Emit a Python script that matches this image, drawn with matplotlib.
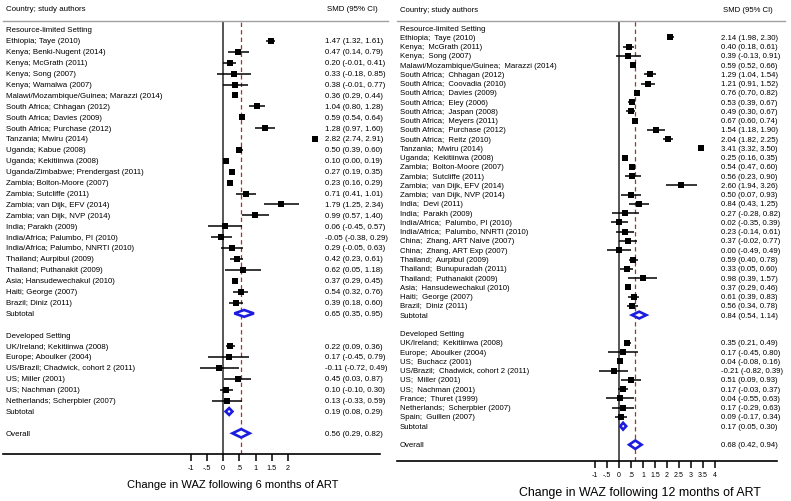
import numpy as np
import matplotlib.pyplot as plt

plt.rcParams['font.family'] = ['Liberation Sans', 'DejaVu Sans']

# ---- 6 months of ART ----
rl6_names = ["Ethiopia; Taye (2010)", "Kenya; Benki-Nugent (2014)", "Kenya; McGrath (2011)",
             "Kenya; Song (2007)", "Kenya; Wamalwa (2007)", "Malawi/Mozambique/Guinea; Marazzi (2014)",
             "South Africa; Chhagan (2012)", "South Africa; Davies (2009)", "South Africa; Purchase (2012)",
             "Tanzania; Mwiru (2014)", "Uganda; Kabue (2008)", "Uganda; Kekitiinwa (2008)",
             "Uganda/Zimbabwe; Prendergast (2011)", "Zambia; Bolton-Moore (2007)", "Zambia; Sutcliffe (2011)",
             "Zambia; van Dijk, EFV (2014)", "Zambia; van Dijk, NVP (2014)", "India; Parakh (2009)",
             "India/Africa; Palumbo, PI (2010)", "India/Africa; Palumbo, NNRTI (2010)",
             "Thailand; Aurpibul (2009)", "Thailand; Puthanakit (2009)", "Asia; Hansudewechakul (2010)",
             "Haiti; George (2007)", "Brazil; Diniz (2011)"]
rl6_est = [1.47, 0.47, 0.20, 0.33, 0.38, 0.36, 1.04, 0.59, 1.28, 2.82, 0.50, 0.10, 0.27, 0.23, 0.71,
           1.79, 0.99, 0.06, -0.05, 0.29, 0.42, 0.62, 0.37, 0.54, 0.39]
rl6_lo = [1.32, 0.14, -0.01, -0.18, -0.01, 0.29, 0.80, 0.54, 0.97, 2.74, 0.39, 0.00, 0.19, 0.16, 0.41,
          1.25, 0.57, -0.45, -0.38, -0.05, 0.23, 0.05, 0.29, 0.32, 0.18]
rl6_hi = [1.61, 0.79, 0.41, 0.85, 0.77, 0.44, 1.28, 0.64, 1.60, 2.91, 0.60, 0.19, 0.35, 0.29, 1.01,
          2.34, 1.40, 0.57, 0.29, 0.63, 0.61, 1.18, 0.45, 0.76, 0.60]
rl6_sub = [0.65, 0.35, 0.95]

dev6_names = ["UK/Ireland; Kekitiinwa (2008)", "Europe; Aboulker (2004)",
              "US/Brazil; Chadwick, cohort 2 (2011)", "US; Miller (2001)", "US; Nachman (2001)",
              "Netherlands; Scherpbier (2007)"]
dev6_est = [0.22, 0.17, -0.11, 0.45, 0.10, 0.13]
dev6_lo = [0.09, -0.45, -0.72, 0.03, -0.10, -0.33]
dev6_hi = [0.36, 0.79, 0.49, 0.87, 0.30, 0.59]
dev6_sub = [0.19, 0.08, 0.29]
overall6 = [0.56, 0.29, 0.82]

ticks6 = [-1, -0.5, 0, 0.5, 1, 1.5, 2]
ticklabels6 = ["-1", "-.5", "0", ".5", "1", "1.5", "2"]

# ---- 12 months of ART ----
rl12_names = ["Ethiopia;  Taye (2010)", "Kenya;  McGrath (2011)", "Kenya;  Song (2007)",
              "Malawi/Mozambique/Guinea;  Marazzi (2014)", "South Africa;  Chhagan (2012)",
              "South Africa;  Coovadia (2010)", "South Africa;  Davies (2009)", "South Africa;  Eley (2006)",
              "South Africa;  Jaspan (2008)", "South Africa;  Meyers (2011)", "South Africa;  Purchase (2012)",
              "South Africa;  Reitz (2010)", "Tanzania;  Mwiru (2014)", "Uganda;  Kekitiinwa (2008)",
              "Zambia;  Bolton-Moore (2007)", "Zambia;  Sutcliffe (2011)", "Zambia;  van Dijk, EFV (2014)",
              "Zambia;  van Dijk, NVP (2014)", "India;  Devi (2011)", "India;  Parakh (2009)",
              "India/Africa;  Palumbo, PI (2010)", "India/Africa;  Palumbo, NNRTI (2010)",
              "China;  Zhang, ART Naive (2007)", "China;  Zhang, ART Exp (2007)",
              "Thailand;  Aurpibul (2009)", "Thailand;  Bunupuradah (2011)", "Thailand;  Puthanakit (2009)",
              "Asia;  Hansudewechakul (2010)", "Haiti;  George (2007)", "Brazil;  Diniz (2011)"]
rl12_est = [2.14, 0.40, 0.39, 0.59, 1.29, 1.21, 0.76, 0.53, 0.49, 0.67, 1.54, 2.04, 3.41, 0.25, 0.54,
            0.56, 2.60, 0.50, 0.84, 0.27, 0.02, 0.23, 0.37, 0.00, 0.59, 0.33, 0.98, 0.37, 0.61, 0.56]
rl12_lo = [1.98, 0.18, -0.13, 0.52, 1.04, 0.91, 0.70, 0.39, 0.30, 0.60, 1.18, 1.82, 3.32, 0.16, 0.47,
           0.23, 1.94, 0.07, 0.43, -0.28, -0.35, -0.14, -0.02, -0.49, 0.40, 0.05, 0.39, 0.29, 0.39, 0.34]
rl12_hi = [2.30, 0.61, 0.91, 0.66, 1.54, 1.52, 0.82, 0.67, 0.67, 0.74, 1.90, 2.25, 3.50, 0.35, 0.60,
           0.90, 3.26, 0.93, 1.25, 0.82, 0.39, 0.61, 0.77, 0.49, 0.78, 0.60, 1.57, 0.46, 0.83, 0.78]
rl12_sub = [0.84, 0.54, 1.14]

dev12_names = ["UK/Ireland;  Kekitiinwa (2008)", "Europe;  Aboulker (2004)", "US;  Buchacz (2001)",
               "US/Brazil;  Chadwick, cohort 2 (2011)", "US;  Miller (2001)", "US;  Nachman (2001)",
               "France;  Thuret (1999)", "Netherlands;  Scherpbier (2007)", "Spain;  Guillen (2007)"]
dev12_est = [0.35, 0.17, 0.04, -0.21, 0.51, 0.17, 0.04, 0.17, 0.09]
dev12_lo = [0.21, -0.45, -0.08, -0.82, 0.09, -0.03, -0.55, -0.29, -0.17]
dev12_hi = [0.49, 0.80, 0.16, 0.39, 0.93, 0.37, 0.63, 0.63, 0.34]
dev12_sub = [0.17, 0.05, 0.30]
overall12 = [0.68, 0.42, 0.94]

ticks12 = [-1, -0.5, 0, 0.5, 1, 1.5, 2, 2.5, 3, 3.5, 4]
ticklabels12 = ["-1", "-.5", "0", ".5", "1", "1.5", "2", "2.5", "3", "3.5", "4"]

W, H = 791, 502
fig = plt.figure(figsize=(W / 100, H / 100), dpi=100)
DIAMOND = '#1c1ce0'


def fmt(e, l, h):
    return f"{e:.2f} ({l:.2f}, {h:.2f})"


def draw_panel(groups, overall, ticks, ticklabels, xlabel, g):
    # g holds the pixel layout of the panel
    x0, x1, top, bot = g['x0'], g['x1'], g['top'], g['bot']
    zero, scale, row0, dy = g['zero'], g['scale'], g['row0'], g['dy']
    ax = fig.add_axes([x0 / W, 1 - bot / H, (x1 - x0) / W, (bot - top) / H])
    ax.set_xlim((x0 - zero) / scale, (x1 - zero) / scale)
    ax.set_ylim((bot - row0) / dy, (top - row0) / dy)
    px = lambda p: (p - zero) / scale
    fs = g['fs']

    # marker sizes from (random-effects like) weights
    tau2 = 0.6
    allse = np.concatenate([(np.array(gr[4]) - np.array(gr[3])) / 3.92 for gr in groups])
    wmax = np.max(1 / (allse ** 2 + tau2))

    ax.text(px(g['tx']), (10 - row0) / dy, "Country; study authors", fontsize=fs, va='center', clip_on=False)
    ax.text(px(g['vx']) + 2 / scale, (10 - row0) / dy, "SMD (95% CI)", fontsize=fs, va='center', clip_on=False)
    ax.plot([px(x0), px(g['hx1'])], [(top - row0) / dy] * 2, color='#a0a0a0', lw=1, clip_on=False)

    ax.axvline(0, color='#555555', lw=1.4, zorder=1)
    ax.axvline(overall[0], color='#a83232', lw=0.9, ls=(0, (3.5, 2.5)), zorder=1)

    def diamond(vals, row, half):
        e, l, h = vals
        hh = half / dy
        ax.fill([l, e, h, e, l], [row, row - hh, row, row + hh, row],
                facecolor='white', edgecolor=DIAMOND, lw=1.9, joinstyle='miter', zorder=4)

    row = 0
    for title, names, est, lo, hi, sub in groups:
        ax.text(px(g['tx']), row, title, fontsize=fs, va='center')
        row += 1
        for n, e, l, h in zip(names, est, lo, hi):
            se = (h - l) / 3.92
            side = g['msize'] * np.sqrt((1 / (se ** 2 + tau2)) / wmax)
            ax.plot([l, h], [row, row], color='black', lw=1.1, solid_capstyle='butt', zorder=3)
            ax.plot(e, row, 's', color='black', ms=side / 1.389, mew=0, zorder=3)
            ax.text(px(g['tx']), row, n, fontsize=fs, va='center')
            ax.text(px(g['vx']), row, fmt(e, l, h), fontsize=fs, va='center')
            row += 1
        diamond(sub, row, 3.4)
        ax.text(px(g['tx']), row, "Subtotal", fontsize=fs, va='center')
        ax.text(px(g['vx']), row, fmt(*sub), fontsize=fs, va='center')
        row += 2
    diamond(overall, row, 4.2)
    ax.text(px(g['tx']), row, "Overall", fontsize=fs, va='center')
    ax.text(px(g['vx']), row, fmt(*overall), fontsize=fs, va='center')

    for s in ['top', 'left', 'right']:
        ax.spines[s].set_visible(False)
    ax.spines['bottom'].set_linewidth(1.2)
    ax.set_yticks([])
    ax.set_xticks(ticks, ticklabels)
    ax.tick_params(axis='x', length=4.8, width=1.1, pad=2.2, labelsize=g['tfs'])
    fig.text(g['xlx'] / W, 1 - g['xly'] / H, xlabel, ha='center', va='center', fontsize=g['xlfs'])
    return ax


geo6 = dict(x0=3, x1=380, top=22, bot=455, zero=223, scale=32.5, row0=31, dy=10.9,
            tx=6, vx=325, hx1=388, fs=5.7, tfs=5.2, msize=5.8, xlx=233, xly=485, xlfs=8)
geo12 = dict(x0=397, x1=777, top=22, bot=462, zero=619, scale=24.0, row0=29, dy=9.26,
             tx=400, vx=721, hx1=785, fs=5.6, tfs=5.0, msize=5.6, xlx=640, xly=493, xlfs=8.9)

draw_panel([("Resource-limited Setting", rl6_names, rl6_est, rl6_lo, rl6_hi, rl6_sub),
            ("Developed Setting", dev6_names, dev6_est, dev6_lo, dev6_hi, dev6_sub)],
           overall6, ticks6, ticklabels6, "Change in WAZ following 6 months of ART", geo6)
draw_panel([("Resource-limited Setting", rl12_names, rl12_est, rl12_lo, rl12_hi, rl12_sub),
            ("Developed Setting", dev12_names, dev12_est, dev12_lo, dev12_hi, dev12_sub)],
           overall12, ticks12, ticklabels12, "Change in WAZ following 12 months of ART", geo12)

fig.savefig("out.png", dpi=100)
